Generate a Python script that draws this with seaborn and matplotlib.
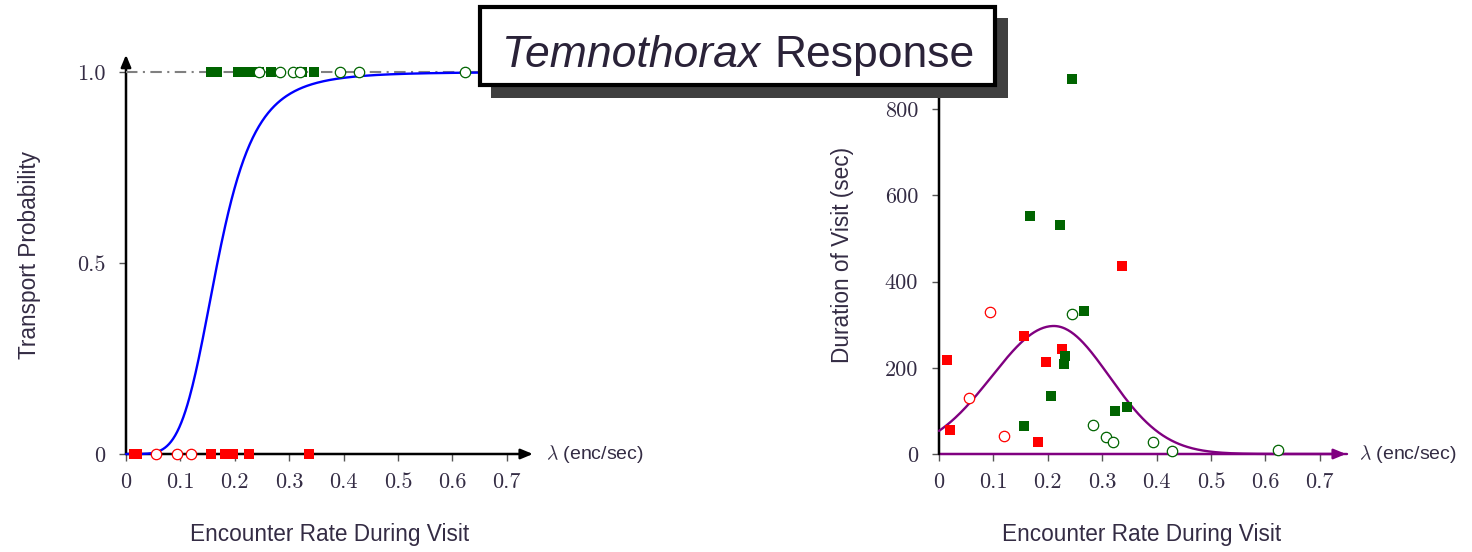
import numpy as np
import pandas as pd
import matplotlib
matplotlib.use("Agg")
import matplotlib.pyplot as plt
import seaborn as sns
from matplotlib.patches import Rectangle

# Visits that ended in a transport (green) or not (red); squares and rings are
# the two visit groups. Encounter rate in enc/sec, visit duration in sec.
red_sq_lam = [0.015, 0.020, 0.156, 0.182, 0.197, 0.226, 0.336]
red_sq_dur = [218, 56, 274, 28, 213, 244, 436]
red_ring_lam = [0.055, 0.094, 0.120]
red_ring_dur = [130, 329, 42]
grn_sq_lam = [0.156, 0.167, 0.206, 0.222, 0.230, 0.232, 0.245, 0.267, 0.324, 0.346]
grn_sq_dur = [65, 552, 135, 531, 209, 227, 870, 332, 100, 109]
grn_ring_lam = [0.245, 0.283, 0.307, 0.320, 0.393, 0.428, 0.623]
grn_ring_dur = [325, 67, 40, 28, 28, 7, 9]

x_ticks = [0, 0.1, 0.2, 0.3, 0.4, 0.5, 0.6, 0.7]
x_tick_labels = ["0", "0.1", "0.2", "0.3", "0.4", "0.5", "0.6", "0.7"]
p_ticks = [0, 0.5, 1.0]
p_tick_labels = ["0", "0.5", "1.0"]
d_ticks = [0, 200, 400, 600, 800]
d_tick_labels = ["0", "200", "400", "600", "800"]

# Fitted response curves
P_HALF, P_HILL = 0.168, 4.8                      # transport probability (Hill form)
D_PEAK, D_MU, D_SIG_LO, D_SIG_HI = 297.0, 0.211, 0.114, 0.102   # mean visit duration

RED, GREEN = "#ff0000", "#006400"
TXT = "#342c44"
TICK_FS = 16
LABEL_FS = 16.3

sns.set_theme(style="white")
plt.rcParams["font.family"] = ["Liberation Sans", "DejaVu Sans"]
plt.rcParams["mathtext.fontset"] = "cm"

W, H = 1472, 552
fig = plt.figure(figsize=(W / 100, H / 100), dpi=100)
fig.patch.set_facecolor("white")

XPX = 544.0   # pixels per unit of lambda


def add_axes(x0, y0, xmax, ymax, ypx):
    """Axes whose data origin sits at pixel (x0, y0) measured from the top-left."""
    ax = fig.add_axes([x0 / W, (H - y0) / H, xmax * XPX / W, ymax * ypx / H])
    ax.set_xlim(0, xmax)
    ax.set_ylim(0, ymax)
    ax.patch.set_alpha(0)
    for s in ax.spines.values():
        s.set_visible(False)
    ax.tick_params(bottom=True, left=True, direction="out", length=5, width=1,
                   color="#555555", labelcolor=TXT)
    ax.tick_params(axis="x", pad=8)
    ax.tick_params(axis="y", pad=10)
    return ax


def axis_arrows(ax, xend, yend, xcolor="black"):
    kw = dict(arrowstyle="-|>,head_length=0.6,head_width=0.25", lw=1.8,
              shrinkA=0, shrinkB=0)
    ax.annotate("", xy=(xend, 0), xytext=(0, 0), annotation_clip=False,
                arrowprops=dict(color=xcolor, **kw), zorder=1.5)
    ax.annotate("", xy=(0, yend), xytext=(0, 0), annotation_clip=False,
                arrowprops=dict(color="black", **kw), zorder=1.5)
    ax.text(0.772, 0, r"$\lambda$ (enc/sec)", ha="left", va="center",
            fontsize=14, color=TXT)


def set_ticks(ax, yt, ytl):
    ax.set_xticks(x_ticks)
    ax.set_xticklabels(x_tick_labels, fontfamily="cmr10", fontsize=TICK_FS)
    ax.set_yticks(yt)
    ax.set_yticklabels(ytl, fontfamily="cmr10", fontsize=TICK_FS)
    ax.set_xlabel("")
    ax.set_ylabel("")


def scatter_groups(ax, yvals):
    (rs, rr, gs, gr) = yvals
    sq = dict(marker="s", s=60, linewidth=0, clip_on=False, zorder=5, ax=ax)
    ring = dict(marker="o", s=56, color="white", linewidth=0.9, clip_on=False,
                zorder=6, ax=ax)
    sns.scatterplot(x=red_sq_lam, y=rs, color=RED, **sq)
    sns.scatterplot(x=grn_sq_lam, y=gs, color=GREEN, **sq)
    sns.scatterplot(x=red_ring_lam, y=rr, edgecolor=RED, **ring)
    sns.scatterplot(x=grn_ring_lam, y=gr, edgecolor=GREEN, **ring)


lam = np.linspace(1e-4, 0.75, 400)

# ---- left: transport probability ----
axL = add_axes(126, 454, 0.8, 1.1, 382.0)
axis_arrows(axL, 0.748, 1.045)
sns.lineplot(x=[0, 0.75], y=[1, 1], color="#808080", lw=1.5,
             linestyle=(0, (5.5, 2.6, 1, 2.6)), ax=axL, zorder=2)
prob = 1.0 / (1.0 + (P_HALF / lam) ** P_HILL)
sns.lineplot(x=lam, y=prob, color="#0000ff", lw=1.7, ax=axL, zorder=3,
             clip_on=False)
scatter_groups(axL, ([0] * len(red_sq_lam), [0] * len(red_ring_lam),
                     [1] * len(grn_sq_lam), [1] * len(grn_ring_lam)))
set_ticks(axL, p_ticks, p_tick_labels)

# ---- right: visit duration ----
axR = add_axes(939, 454, 0.8, 900, 0.431)
axis_arrows(axR, 0.748, 900, xcolor="#800080")
sig = np.where(lam < D_MU, D_SIG_LO, D_SIG_HI)
dur = D_PEAK * np.exp(-((lam - D_MU) ** 2) / (2 * sig ** 2))
sns.lineplot(x=lam, y=dur, color="#800080", lw=1.7, ax=axR, zorder=3,
             clip_on=False)
scatter_groups(axR, (red_sq_dur, red_ring_dur, grn_sq_dur, grn_ring_dur))
set_ticks(axR, d_ticks, d_tick_labels)

# ---- axis titles ----
def ftext(px, py, s, **kw):
    fig.text(px / W, 1 - py / H, s, color=TXT, ha="center", va="center", **kw)

ftext(30, 255, "Transport Probability", fontsize=LABEL_FS, rotation=90)
ftext(330, 535, "Encounter Rate During Visit", fontsize=LABEL_FS)
ftext(842, 255, "Duration of Visit (sec)", fontsize=LABEL_FS, rotation=90)
ftext(1142, 535, "Encounter Rate During Visit", fontsize=LABEL_FS)

# ---- boxed title with drop shadow ----
def frect(x0, y0, x1, y1, **kw):
    r = Rectangle((x0 / W, 1 - y1 / H), (x1 - x0) / W, (y1 - y0) / H,
                  transform=fig.transFigure, **kw)
    fig.add_artist(r)

frect(491, 18, 1008, 98, facecolor="#404040", edgecolor="none", zorder=10)
frect(480, 7, 995, 85, facecolor="white", edgecolor="black", lw=3, zorder=11)
fig.text(760 / W, 1 - 67 / H, "Temnothorax", fontsize=32, style="italic",
         ha="right", va="baseline", color="#2a2238", zorder=12)
fig.text(774 / W, 1 - 67 / H, "Response", fontsize=32,
         ha="left", va="baseline", color="#2a2238", zorder=12)

fig.savefig("out.png", dpi=100, facecolor="white")
